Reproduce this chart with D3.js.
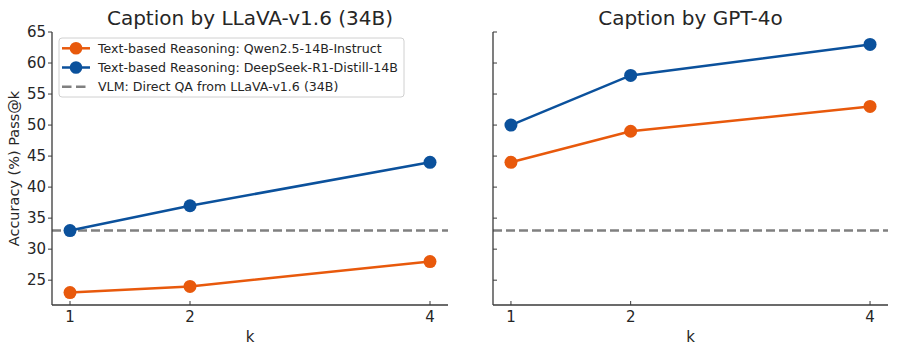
<!DOCTYPE html>
<html>
<head>
<meta charset="utf-8">
<script src="https://d3js.org/d3.v7.min.js"></script>
<style>
  body { margin: 0; background: #fff; }
  text { font-family: "DejaVu Sans", sans-serif; fill: #262626; }
</style>
</head>
<body>
<script>
// data
const kValues = [1, 2, 4];
const panelTitles = ["Caption by LLaVA-v1.6 (34B)", "Caption by GPT-4o"];
const qwenLeft = [23, 24, 28];
const deepseekLeft = [33, 37, 44];
const qwenRight = [44, 49, 53];
const deepseekRight = [50, 58, 63];
const vlmBaseline = 33;
const yTicks = [25, 30, 35, 40, 45, 50, 55, 60, 65];
const legendLabels = [
  "Text-based Reasoning: Qwen2.5-14B-Instruct",
  "Text-based Reasoning: DeepSeek-R1-Distill-14B",
  "VLM: Direct QA from LLaVA-v1.6 (34B)"
];

const orange = "#e8590c";
const blue = "#0b519c";
const gray = "#808080";
const spine = "#3a3a3a";

const width = 897, height = 353;
const svg = d3.select("body").append("svg")
  .attr("width", width).attr("height", height);

const plotTop = 32, plotBottom = 305;
const y = d3.scaleLinear().domain([21, 65]).range([plotBottom, plotTop]);

const panels = [
  { x0: 52, x1: 448, qwen: qwenLeft, deep: deepseekLeft, title: panelTitles[0], labels: true },
  { x0: 493, x1: 888, qwen: qwenRight, deep: deepseekRight, title: panelTitles[1], labels: false }
];

panels.forEach(p => {
  const x = d3.scaleLinear().domain([0.85, 4.15]).range([p.x0, p.x1]);
  const g = svg.append("g");

  // title
  g.append("text")
    .attr("x", (p.x0 + p.x1) / 2).attr("y", 25)
    .attr("text-anchor", "middle")
    .style("font-size", "20px")
    .text(p.title);

  // baseline
  g.append("line")
    .attr("x1", p.x0).attr("x2", p.x1)
    .attr("y1", y(vlmBaseline)).attr("y2", y(vlmBaseline))
    .attr("stroke", gray).attr("stroke-width", 2.5)
    .attr("stroke-dasharray", "9,4");

  // series
  const line = d3.line().x((d, i) => x(kValues[i])).y(d => y(d));
  [[p.qwen, orange], [p.deep, blue]].forEach(([vals, col]) => {
    g.append("path").datum(vals)
      .attr("d", line).attr("fill", "none")
      .attr("stroke", col).attr("stroke-width", 2.5);
    g.selectAll(null).data(vals).enter().append("circle")
      .attr("cx", (d, i) => x(kValues[i])).attr("cy", d => y(d))
      .attr("r", 6.5).attr("fill", col);
  });

  // spines
  g.append("line").attr("x1", p.x0).attr("x2", p.x0).attr("y1", plotTop).attr("y2", plotBottom)
    .attr("stroke", spine).attr("stroke-width", 1.3);
  g.append("line").attr("x1", p.x0).attr("x2", p.x1).attr("y1", plotBottom).attr("y2", plotBottom)
    .attr("stroke", spine).attr("stroke-width", 1.3);

  // y ticks
  yTicks.forEach(t => {
    const yy = y(t);
    if (p.labels) {
      g.append("line").attr("x1", p.x0 - 4).attr("x2", p.x0).attr("y1", yy).attr("y2", yy)
        .attr("stroke", spine).attr("stroke-width", 1);
      g.append("text").attr("x", p.x0 - 6).attr("y", yy).attr("dy", "0.35em")
        .attr("text-anchor", "end").style("font-size", "15px").text(t);
    } else {
      g.append("line").attr("x1", p.x0).attr("x2", p.x0 + 4).attr("y1", yy).attr("y2", yy)
        .attr("stroke", spine).attr("stroke-width", 1);
    }
  });

  // x ticks (inward)
  kValues.forEach(k => {
    g.append("line").attr("x1", x(k)).attr("x2", x(k)).attr("y1", plotBottom - 4).attr("y2", plotBottom)
      .attr("stroke", spine).attr("stroke-width", 1);
    g.append("text").attr("x", x(k)).attr("y", 322)
      .attr("text-anchor", "middle").style("font-size", "15px").text(k);
  });

  g.append("text").attr("x", (p.x0 + p.x1) / 2).attr("y", 342)
    .attr("text-anchor", "middle").style("font-size", "15px").text("k");
});

// y label
svg.append("text")
  .attr("transform", `translate(19, ${(plotTop + plotBottom) / 2}) rotate(-90)`)
  .attr("text-anchor", "middle").style("font-size", "14.5px")
  .text("Accuracy (%) Pass@k");

// legend
const lg = svg.append("g").attr("transform", "translate(59, 38)");
lg.append("rect").attr("width", 345).attr("height", 59).attr("rx", 3)
  .attr("fill", "rgba(255,255,255,0.8)").attr("stroke", "#d0d0d0");
const legendStyles = [[orange, true, false], [blue, true, false], [gray, false, true]];
legendLabels.forEach((lab, i) => {
  const yy = 10.3 + i * 19.2;
  const [col, marker, dashed] = legendStyles[i];
  lg.append("line").attr("x1", 3).attr("x2", 31).attr("y1", yy).attr("y2", yy)
    .attr("stroke", col).attr("stroke-width", 2.5)
    .attr("stroke-dasharray", dashed ? "9.5,4.5" : null);
  if (marker) lg.append("circle").attr("cx", 17).attr("cy", yy).attr("r", 6.3).attr("fill", col);
  lg.append("text").attr("x", 39).attr("y", yy).attr("dy", "0.35em")
    .style("font-size", "12.6px").text(lab);
});
</script>
</body>
</html>
